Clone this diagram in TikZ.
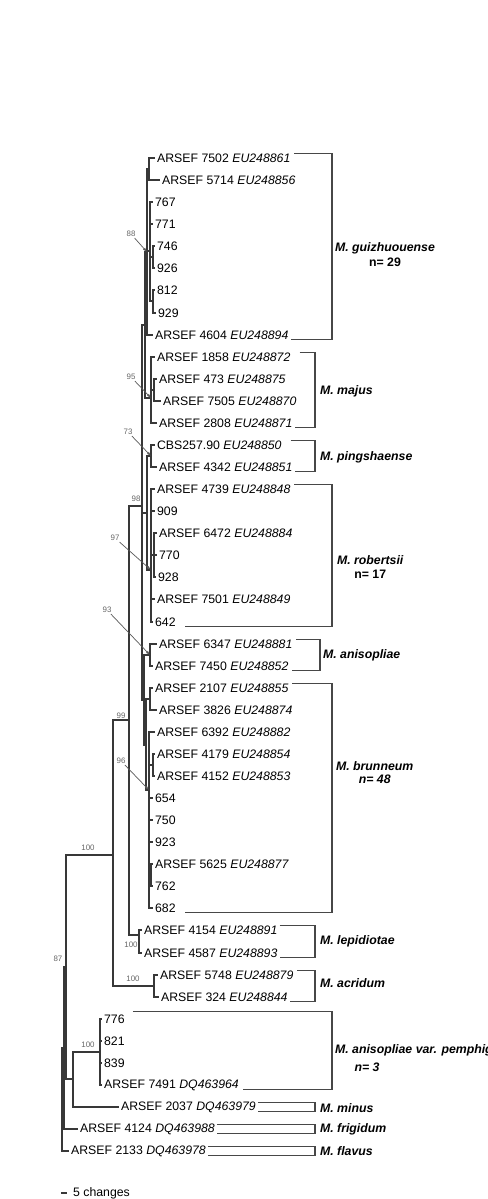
\documentclass[tikz,border=0pt]{standalone}
\usepackage{fontspec}
\setmainfont{Liberation Sans}
\usetikzlibrary{positioning,arrows.meta}

\begin{document}
\begin{tikzpicture}[x=0.02cm, y=-0.02cm,
			leafnode/.style={anchor=west, inner sep=1pt, font=\fontsize{7}{8}\selectfont},
			treeline/.style={draw=black!78, line width=0.6pt},
			bootval/.style={inner sep=0.5pt, text=black!60, font=\fontsize{4.5}{5}\selectfont},
			leader/.style={draw=black!65, line width=0.4pt, -{Latex[length=2.5pt,width=1.6pt]}},
			cladeline/.style={draw=black!72, line width=0.6pt},
			cladename/.style={anchor=west, inner sep=1pt, font=\fontsize{7}{8}\selectfont\bfseries\itshape},
			cladecount/.style={inner sep=1pt, font=\fontsize{7}{8}\selectfont\bfseries}]
			
			\useasboundingbox (0,0) rectangle (487,1199);
			
			% taxa
			\node[leafnode] (ar7502) at (155,158) {ARSEF 7502 \textit{EU248861}};
			\node[leafnode] (ar5714) at (160,180) {ARSEF 5714 \textit{EU248856}};
			\node[leafnode] (s767) at (153,202) {767};
			\node[leafnode] (s771) at (153,224) {771};
			\node[leafnode] (s746) at (155,246) {746};
			\node[leafnode] (s926) at (155,268) {926};
			\node[leafnode] (s812) at (155,290) {812};
			\node[leafnode] (s929) at (156,313) {929};
			\node[leafnode] (ar4604) at (153,335) {ARSEF 4604 \textit{EU248894}};
			\node[leafnode] (ar1858) at (155,357) {ARSEF 1858 \textit{EU248872}};
			\node[leafnode] (ar473) at (157,379) {ARSEF 473 \textit{EU248875}};
			\node[leafnode] (ar7505) at (161,401) {ARSEF 7505 \textit{EU248870}};
			\node[leafnode] (ar2808) at (157,423) {ARSEF 2808 \textit{EU248871}};
			\node[leafnode] (cbs) at (155,445) {CBS257.90 \textit{EU248850}};
			\node[leafnode] (ar4342) at (157,467) {ARSEF 4342 \textit{EU248851}};
			\node[leafnode] (ar4739) at (155,489) {ARSEF 4739 \textit{EU248848}};
			\node[leafnode] (s909) at (155,511) {909};
			\node[leafnode] (ar6472) at (157,533) {ARSEF 6472 \textit{EU248884}};
			\node[leafnode] (s770) at (157,555) {770};
			\node[leafnode] (s928) at (156,577) {928};
			\node[leafnode] (ar7501) at (155,599) {ARSEF 7501 \textit{EU248849}};
			\node[leafnode] (s642) at (153,622) {642};
			\node[leafnode] (ar6347) at (157,644) {ARSEF 6347 \textit{EU248881}};
			\node[leafnode] (ar7450) at (153,666) {ARSEF 7450 \textit{EU248852}};
			\node[leafnode] (ar2107) at (153,688) {ARSEF 2107 \textit{EU248855}};
			\node[leafnode] (ar3826) at (157,710) {ARSEF 3826 \textit{EU248874}};
			\node[leafnode] (ar6392) at (155,732) {ARSEF 6392 \textit{EU248882}};
			\node[leafnode] (ar4179) at (155,754) {ARSEF 4179 \textit{EU248854}};
			\node[leafnode] (ar4152) at (155,776) {ARSEF 4152 \textit{EU248853}};
			\node[leafnode] (s654) at (153,798) {654};
			\node[leafnode] (s750) at (153,820) {750};
			\node[leafnode] (s923) at (153,842) {923};
			\node[leafnode] (ar5625) at (153,864) {ARSEF 5625 \textit{EU248877}};
			\node[leafnode] (s762) at (153,886) {762};
			\node[leafnode] (s682) at (153,908) {682};
			\node[leafnode] (ar4154) at (142,930) {ARSEF 4154 \textit{EU248891}};
			\node[leafnode] (ar4587) at (142,953) {ARSEF 4587 \textit{EU248893}};
			\node[leafnode] (ar5748) at (158,975) {ARSEF 5748 \textit{EU248879}};
			\node[leafnode] (ar324) at (159,997) {ARSEF 324 \textit{EU248844}};
			\node[leafnode] (s776) at (102,1019) {776};
			\node[leafnode] (s821) at (102,1041) {821};
			\node[leafnode] (s839) at (102,1063) {839};
			\node[leafnode] (ar7491) at (102,1085) {ARSEF 7491 \textit{DQ463964}};
			\node[leafnode] (ar2037) at (119,1107) {ARSEF 2037 \textit{DQ463979}};
			\node[leafnode] (ar4124) at (78,1129) {ARSEF 4124 \textit{DQ463988}};
			\node[leafnode] (ar2133) at (69,1151) {ARSEF 2133 \textit{DQ463978}};
			
			% internal nodes
			\coordinate (a1) at (149,169);
			\coordinate (a2) at (153,257);
			\coordinate (a3) at (153,301);
			\coordinate (a4) at (150,251);
			\coordinate (gz) at (147,252);
			\coordinate (a5) at (154,390);
			\coordinate (mj) at (151,398);
			\coordinate (gm) at (145,325);
			\coordinate (pg) at (151,456);
			\coordinate (rbin) at (154,555);
			\coordinate (rb) at (151,570);
			\coordinate (ps) at (147,513);
			\coordinate (an) at (150,655);
			\coordinate (b1) at (150,699);
			\coordinate (b2) at (153,765);
			\coordinate (b3) at (151,875);
			\coordinate (br) at (149,790);
			\coordinate (brb) at (146,745);
			\coordinate (ab) at (144,700);
			\coordinate (n98) at (142,506);
			\coordinate (lp) at (139,935);
			\coordinate (n99) at (129,720);
			\coordinate (ac) at (154,986);
			\coordinate (n100) at (113,855);
			\coordinate (pe) at (100,1052);
			\coordinate (pm) at (73,1079);
			\coordinate (n66) at (66,967);
			\coordinate (n87) at (64,1048);
			\coordinate (root) at (62,1099);
			
			% branches
			\draw[treeline] (a1) |- (ar7502.west) (a1) |- (ar5714.west);
			\draw[treeline] (a2) |- (s746.west) (a2) |- (s926.west);
			\draw[treeline] (a3) |- (s812.west) (a3) |- (s929.west);
			\draw[treeline] (a4) |- (s767.west) (a4) |- (s771.west) (a4) |- (a2) (a4) |- (a3);
			\draw[treeline] (gz) |- (a1) (gz) |- (a4) (gz) |- (ar4604.west);
			\draw[treeline] (a5) |- (ar473.west) (a5) |- (ar7505.west);
			\draw[treeline] (mj) |- (ar1858.west) (mj) |- (a5) (mj) |- (ar2808.west);
			\draw[treeline] (gm) |- (gz) (gm) |- (mj);
			\draw[treeline] (pg) |- (cbs.west) (pg) |- (ar4342.west);
			\draw[treeline] (rbin) |- (ar6472.west) (rbin) |- (s770.west) (rbin) |- (s928.west);
			\draw[treeline] (rb) |- (ar4739.west) (rb) |- (s909.west) (rb) |- (rbin) (rb) |- (ar7501.west) (rb) |- (s642.west);
			\draw[treeline] (ps) |- (pg) (ps) |- (rb);
			\draw[treeline] (an) |- (ar6347.west) (an) |- (ar7450.west);
			\draw[treeline] (b1) |- (ar2107.west) (b1) |- (ar3826.west);
			\draw[treeline] (b2) |- (ar4179.west) (b2) |- (ar4152.west);
			\draw[treeline] (b3) |- (ar5625.west) (b3) |- (s762.west);
			\draw[treeline] (br) |- (ar6392.west) (br) |- (b2) (br) |- (s654.west) (br) |- (s750.west)
				(br) |- (s923.west) (br) |- (b3) (br) |- (s682.west);
			\draw[treeline] (brb) |- (b1) (brb) |- (br);
			\draw[treeline] (ab) |- (an) (ab) |- (brb);
			\draw[treeline] (n98) |- (gm) (n98) |- (ps) (n98) |- (ab);
			\draw[treeline] (lp) |- (ar4154.west) (lp) |- (ar4587.west);
			\draw[treeline] (n99) |- (n98) (n99) |- (lp);
			\draw[treeline] (ac) |- (ar5748.west) (ac) |- (ar324.west);
			\draw[treeline] (n100) |- (n99) (n100) |- (ac);
			\draw[treeline] (pe) |- (s776.west) (pe) |- (s821.west) (pe) |- (s839.west) (pe) |- (ar7491.west);
			\draw[treeline] (pm) |- (pe) (pm) |- (ar2037.west);
			\draw[treeline] (n66) |- (n100) (n66) |- (pm);
			\draw[treeline] (n87) |- (n66) (n87) |- (ar4124.west);
			\draw[treeline, line width=1pt] (root) |- (n87) (root) |- (ar2133.west);
			
			% bootstrap values
			\node[bootval] (bs88) at (131,234) {88};
			\node[bootval] (bs95) at (131,377) {95};
			\node[bootval] (bs73) at (128,432) {73};
			\node[bootval] (bs98) at (136,499) {98};
			\node[bootval] (bs97) at (115,538) {97};
			\node[bootval] (bs93) at (107,610) {93};
			\node[bootval] (bs99) at (121,716) {99};
			\node[bootval] (bs96) at (121,761) {96};
			\node[bootval] (bs100a) at (88,848) {100};
			\node[bootval] (bs100b) at (131,945) {100};
			\node[bootval] (bs100c) at (133,979) {100};
			\node[bootval] (bs87) at (58,959) {87};
			\node[bootval] (bs100d) at (88,1045) {100};
			
			\draw[leader] (bs88) -- (gz);
			\draw[leader] (bs95) -- (mj);
			\draw[leader] (bs73) -- (pg);
			\draw[leader] (bs97) -- (rb);
			\draw[leader] (bs93) -- (an);
			\draw[leader] (bs96) -- (br);
			
			% species brackets
			\coordinate (gzb) at (332,247);
			\coordinate (mjb) at (315,391);
			\coordinate (pgb) at (315,457);
			\coordinate (rbb) at (332,556);
			\coordinate (anb) at (320,655);
			\coordinate (brb2) at (332,798);
			\coordinate (lpb) at (315,941);
			\coordinate (acb) at (315,984);
			\coordinate (peb) at (332,1050);
			\coordinate (mib) at (315,1107);
			\coordinate (frb) at (315,1129);
			\coordinate (flb) at (315,1151);
			
			\draw[cladeline] ([xshift=1pt,yshift=2.5pt]ar7502.east) -| (gzb) |- ([yshift=-2.5pt]ar4604.east);
			\draw[cladeline] ([xshift=4pt,yshift=2.5pt]ar1858.east) -| (mjb) |- ([yshift=-2.5pt]ar2808.east);
			\draw[cladeline] ([xshift=4pt,yshift=2.5pt]cbs.east) -| (pgb) |- ([yshift=-2.5pt]ar4342.east);
			\draw[cladeline] ([xshift=1pt,yshift=2.5pt]ar4739.east) -| (rbb) |- ([xshift=4pt,yshift=-2.5pt]s642.east);
			\draw[cladeline] ([xshift=1pt,yshift=2.5pt]ar6347.east) -| (anb) |- ([xshift=1pt,yshift=-2.5pt]ar7450.east);
			\draw[cladeline] ([xshift=1pt,yshift=2.5pt]ar2107.east) -| (brb2) |- ([xshift=4pt,yshift=-2.5pt]s682.east);
			\draw[cladeline] ([yshift=2.5pt]ar4154.east) -| (lpb) |- ([yshift=-2.5pt]ar4587.east);
			\draw[cladeline] ([xshift=1pt,yshift=2.5pt]ar5748.east) -| (acb) |- ([yshift=-2.5pt]ar324.east);
			\draw[cladeline] ([xshift=3.5pt,yshift=4.5pt]s776.east) -| (peb) |- ([xshift=1pt,yshift=-2.5pt]ar7491.east);
			\draw[cladeline] ([yshift=2.5pt]ar2037.east) -| (mib) |- ([yshift=-2.5pt]ar2037.east);
			\draw[cladeline] ([yshift=2.5pt]ar4124.east) -| (frb) |- ([yshift=-2.5pt]ar4124.east);
			\draw[cladeline] ([yshift=2.5pt]ar2133.east) -| (flb) |- ([yshift=-2.5pt]ar2133.east);
			
			% species names
			\node[cladename] (gzn) at (333,248) {M. guizhuouense};
			\node[cladecount] (gzc) [below=0pt of gzn] {n= 29};
			\node[cladename] (mjn) at (318,391) {M. majus};
			\node[cladename] (pgn) at (318,457) {M. pingshaense};
			\node[cladename] (rbn) at (335,560) {M. robertsii};
			\node[cladecount] (rbc) [below=1pt of rbn] {n= 17};
			\node[cladename] (ann) at (321,655) {M. anisopliae};
			\node[cladename] (brn) at (334,766) {M. brunneum};
			\node[cladecount, font=\fontsize{7}{8}\selectfont\bfseries\itshape] (brc) [below=0pt of brn] {n= 48};
			\node[cladename] (ledn) at (318,941) {M. lepidiotae};
			\node[cladename] (acn) at (318,983) {M. acridum};
			\node[cladename] (pen) at (333,1050) {M. anisopliae var. pemphigi};
			\node[cladecount, font=\fontsize{7}{8}\selectfont\bfseries\itshape] (pec) at (367,1067) {n= 3};
			\node[cladename] (min) at (318,1108) {M. minus};
			\node[cladename] (frn) at (318,1129) {M. frigidum};
			\node[cladename] (fln) at (318,1151) {M. flavus};
			
			% scale bar
			\coordinate (sbl) at (61,1193);
			\coordinate (sbr) at (67,1193);
			\draw[treeline] (sbl) -- (sbr);
			\node[leafnode] (sbtext) at (71,1193) {5 changes};
			
		\end{tikzpicture}
\end{document}
